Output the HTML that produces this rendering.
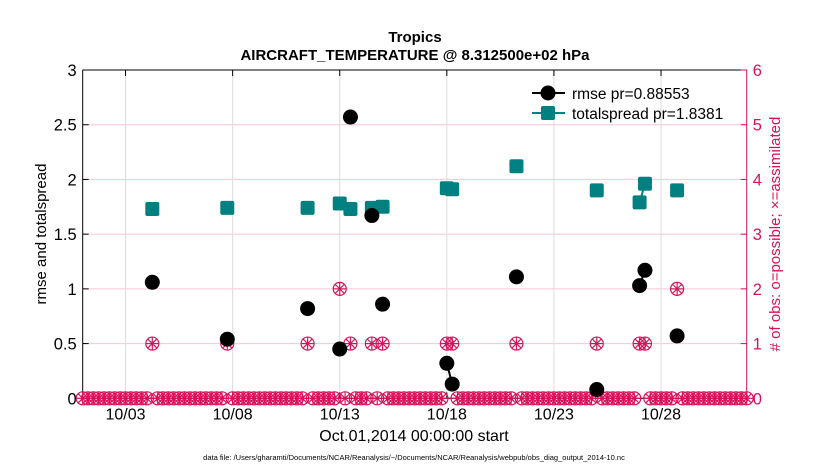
<!DOCTYPE html>
<html><head><meta charset="utf-8"><style>
body{margin:0;background:#fff;}
svg{display:block;font-family:"Liberation Sans",Arial,sans-serif;}
</style></head><body>
<svg id="chart" width="830" height="470">
<text x="415" y="42" text-anchor="middle" font-size="15" font-weight="bold">Tropics</text>
<text x="415" y="60" text-anchor="middle" font-size="15" font-weight="bold">AIRCRAFT_TEMPERATURE @ 8.312500e+02 hPa</text>
<g id="grid"></g><g id="axes"></g><g id="marks"></g>
<text x="414" y="441" text-anchor="middle" font-size="16">Oct.01,2014 00:00:00 start</text>
<text transform="translate(46,234) rotate(-90)" text-anchor="middle" font-size="15">rmse and totalspread</text>
<text transform="translate(780,234) rotate(-90)" text-anchor="middle" font-size="15" fill="#d6135a"># of obs: o=possible; ×=assimilated</text>
<text x="414" y="460" text-anchor="middle" font-size="7.5">data file: /Users/gharamti/Documents/NCAR/Reanalysis/~/Documents/NCAR/Reanalysis/webpub/obs_diag_output_2014-10.nc</text>
<g>
<line x1="532" y1="93" x2="565" y2="93" stroke="#000" stroke-width="2"/>
<circle cx="548" cy="93" r="7.5" fill="#000"/>
<text x="572" y="99" font-size="15.5">rmse pr=0.88553</text>
<line x1="532" y1="113" x2="565" y2="113" stroke="#008080" stroke-width="2"/>
<rect x="541" y="106" width="14" height="14" rx="2" fill="#008080"/>
<text x="572" y="119" font-size="15.5">totalspread pr=1.8381</text>
</g>
</svg>
<script>
const xTickDays=[2,7,12,17,22,27];
const xTickLabels=["10/03","10/08","10/13","10/18","10/23","10/28"];
const yTicks=[0,0.5,1,1.5,2,2.5,3];
const y2Ticks=[0,1,2,3,4,5,6];
const obsDays=[3.25,6.75,10.5,12,12.5,13.5,14,17,17.25,20.25,24,26,26.25,27.75];
const rmse=[1.06,0.54,0.82,0.45,2.57,1.67,0.86,0.32,0.13,1.11,0.08,1.03,1.17,0.57];
const spread=[1.73,1.74,1.74,1.78,1.73,1.74,1.75,1.92,1.91,2.12,1.90,1.79,1.96,1.90];
const counts=[1,1,1,2,1,1,1,1,1,1,1,1,1,2];
const L=82.7,R=746.7,T=70,B=398.3,DAYS=31;
const X=d=>L+(R-L)*d/DAYS, Y=v=>B-(B-T)*v/3, Y2=v=>B-(B-T)*v/6;
const NS="http://www.w3.org/2000/svg";
function mk(p,tag,at){const e=document.createElementNS(NS,tag);for(const k in at)e.setAttribute(k,at[k]);p.appendChild(e);return e;}
const grid=document.getElementById('grid'),axes=document.getElementById('axes'),marks=document.getElementById('marks');
y2Ticks.forEach(v=>{const g=mk(grid,'line',{x1:L,x2:R,y1:Y2(v),y2:Y2(v),stroke:'#f5c6d6','stroke-width':1});

});
xTickDays.forEach((d,i)=>{const g=mk(grid,'line',{x1:X(d),x2:X(d),y1:T,y2:B,stroke:'#dcdcdc','stroke-width':1});


mk(axes,'line',{x1:X(d),x2:X(d),y1:B,y2:B-6,stroke:'#000'});
mk(axes,'line',{x1:X(d),x2:X(d),y1:T,y2:T+6,stroke:'#000'});
const t=mk(axes,'text',{x:X(d),y:B+21,'text-anchor':'middle','font-size':16});t.textContent=xTickLabels[i];

});
mk(axes,'line',{x1:L,x2:R,y1:T,y2:T,stroke:'#000'});
mk(axes,'line',{x1:L,x2:R,y1:B,y2:B,stroke:'#000'});
mk(axes,'line',{x1:L,x2:L,y1:T,y2:B,stroke:'#000'});
mk(axes,'line',{x1:R,x2:R,y1:T,y2:B,stroke:'#d6135a'});
yTicks.forEach(v=>{mk(axes,'line',{x1:L,x2:L+6,y1:Y(v),y2:Y(v),stroke:'#000'});
const t=mk(axes,'text',{x:L-6,y:Y(v)+6,'text-anchor':'end','font-size':16.5});t.textContent=String(v);

});
y2Ticks.forEach(v=>{mk(axes,'line',{x1:R-6,x2:R,y1:Y2(v),y2:Y2(v),stroke:'#d6135a'});
const t=mk(axes,'text',{x:R+6,y:Y2(v)+6,'font-size':16.5,fill:'#d6135a'});t.textContent=String(v);

});
function obsMarker(x,y){const g=mk(marks,'g',{stroke:'#d6135a','stroke-width':1.2,fill:'none'});


mk(g,'circle',{cx:x,cy:y,r:6.5});
mk(g,'line',{x1:x-4.5,y1:y-4.5,x2:x+4.5,y2:y+4.5});mk(g,'line',{x1:x-4.5,y1:y+4.5,x2:x+4.5,y2:y-4.5});
mk(g,'line',{x1:x-6,y1:y,x2:x+6,y2:y});mk(g,'line',{x1:x,y1:y-6,x2:x,y2:y+6});}
for(let k=0;k<=DAYS*4;k++){const d=k/4;const i=obsDays.indexOf(d);const c=i>=0?counts[i]:0;obsMarker(X(d),Y2(c));}
function series(vals,color,shape,name){
for(let i=1;i<obsDays.length;i++){if(Math.abs(obsDays[i]-obsDays[i-1]-0.25)<1e-6){
const l=mk(marks,'line',{x1:X(obsDays[i-1]),y1:Y(vals[i-1]),x2:X(obsDays[i]),y2:Y(vals[i]),stroke:color,'stroke-width':2});

}}
vals.forEach((v,i)=>{let e;if(shape==='c')e=mk(marks,'circle',{cx:X(obsDays[i]),cy:Y(v),r:7.5,fill:color});
else e=mk(marks,'rect',{x:X(obsDays[i])-7,y:Y(v)-7,width:14,height:14,rx:2,fill:color});

});}
series(spread,'#008080','s','totalspread');
series(rmse,'#000','c','rmse');
</script>
</body></html>
